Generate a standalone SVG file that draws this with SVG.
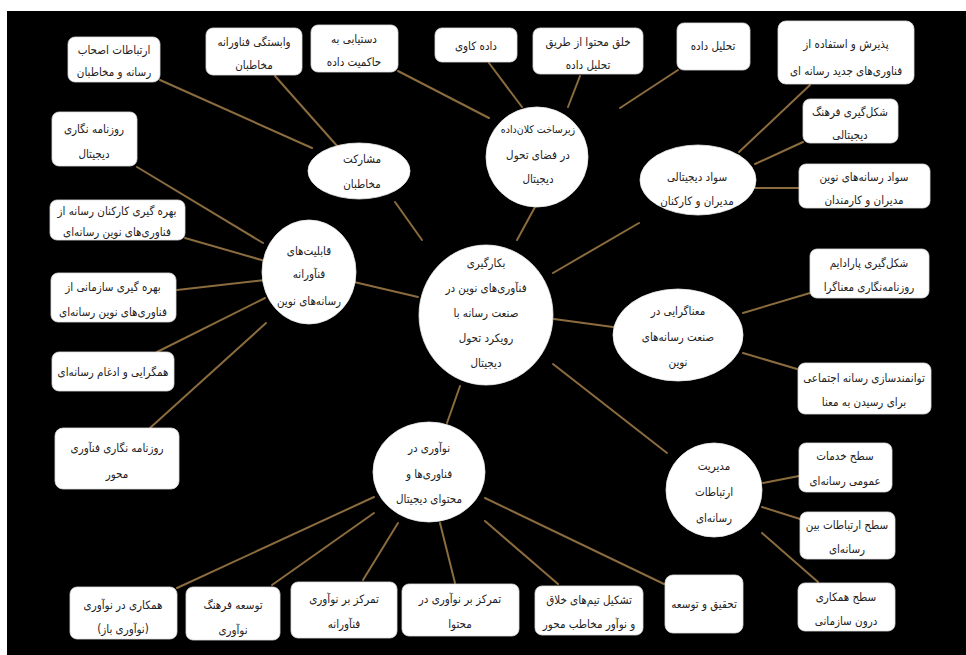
<svg xmlns="http://www.w3.org/2000/svg" width="966" height="655" viewBox="0 0 966 655">
<style>
.bg{fill:#000}
.box{fill:#fff;stroke:#ddd;stroke-width:0.8}
.ell{fill:#fff;stroke:#eee;stroke-width:0.8}
.c line{stroke:#8b6c3e;stroke-width:2;stroke-linecap:round}
text{font-family:"DejaVu Sans Condensed","DejaVu Sans",sans-serif;font-stretch:condensed;font-size:11.5px;fill:#222;text-anchor:middle;direction:rtl}
.sm{font-size:10.5px}
</style>
<rect x="0" y="0" width="966" height="655" fill="#fff"/>
<rect class="bg" x="7" y="11" width="959" height="644"/>
<g class="c" id="connectors">
<line x1="395" y1="202" x2="422" y2="240"/>
<line x1="535" y1="207" x2="517" y2="240"/>
<line x1="553" y1="273" x2="639" y2="223"/>
<line x1="354" y1="282" x2="418" y2="297"/>
<line x1="554" y1="319" x2="613" y2="327"/>
<line x1="460" y1="386" x2="447" y2="423"/>
<line x1="553" y1="364" x2="667" y2="453"/>
<line x1="160" y1="80" x2="312" y2="148"/>
<line x1="275" y1="76" x2="338" y2="147"/>
<line x1="398" y1="71" x2="489" y2="118"/>
<line x1="489" y1="63" x2="522" y2="107"/>
<line x1="580" y1="76" x2="568" y2="107"/>
<line x1="620" y1="108" x2="678" y2="70"/>
<line x1="810" y1="85" x2="739" y2="152"/>
<line x1="803" y1="142" x2="755" y2="164"/>
<line x1="755" y1="188" x2="799" y2="188"/>
<line x1="137" y1="167" x2="263" y2="243"/>
<line x1="185" y1="238" x2="265" y2="261"/>
<line x1="177" y1="290" x2="265" y2="280"/>
<line x1="157" y1="352" x2="265" y2="298"/>
<line x1="150" y1="428" x2="266" y2="323"/>
<line x1="743" y1="313" x2="810" y2="293"/>
<line x1="743" y1="353" x2="797" y2="369"/>
<line x1="177" y1="588" x2="374" y2="497"/>
<line x1="272" y1="585" x2="374" y2="513"/>
<line x1="363" y1="580" x2="398" y2="523"/>
<line x1="455" y1="583" x2="440" y2="523"/>
<line x1="558" y1="584" x2="485" y2="521"/>
<line x1="664" y1="584" x2="485" y2="498"/>
<line x1="763" y1="483" x2="799" y2="476"/>
<line x1="762" y1="507" x2="800" y2="519"/>
<line x1="762" y1="533" x2="818" y2="582"/>
</g>
<g id="n-center"><ellipse class="ell" cx="486" cy="315" rx="67" ry="70"/>
<text x="486" y="267">بکارگیری</text><text x="486" y="292">فنآوری‌های نوین در</text><text x="486" y="317">صنعت رسانه با</text><text x="486" y="342">رویکرد تحول</text><text x="486" y="367">دیجیتال</text></g>
<g id="n-zirsakht"><ellipse class="ell" cx="537" cy="157" rx="51" ry="50"/>
<text class="sm" x="538" y="133">زیرساخت کلان‌داده</text><text x="538" y="159">در فضای تحول</text><text x="538" y="183">دیجیتال</text></g>
<g id="n-mosharekat"><ellipse class="ell" cx="359" cy="171" rx="51" ry="28"/>
<text x="362" y="163">مشارکت</text><text x="362" y="188">مخاطبان</text></g>
<g id="n-savad"><ellipse class="ell" cx="698" cy="180" rx="58" ry="35"/>
<text x="697" y="181">سواد دیجیتالی</text><text x="697" y="205">مدیران و کارکنان</text></g>
<g id="n-qabeliyat"><ellipse class="ell" cx="309" cy="272" rx="47" ry="52"/>
<text x="309" y="255">قابلیت‌های</text><text x="309" y="278">فنآورانه</text><text x="309" y="305">رسانه‌های نوین</text></g>
<g id="n-managarai"><ellipse class="ell" cx="678" cy="335" rx="65" ry="46"/>
<text x="678" y="315">معناگرایی در</text><text x="678" y="341">صنعت رسانه‌های</text><text x="678" y="366">نوین</text></g>
<g id="n-noavari"><ellipse class="ell" cx="429" cy="472" rx="56" ry="50"/>
<text x="429" y="452">نوآوری در</text><text x="429" y="478">فناوری‌ها و</text><text x="429" y="503">محتوای دیجیتال</text></g>
<g id="n-modiriyat"><ellipse class="ell" cx="714" cy="490" rx="48" ry="47"/>
<text x="714" y="470">مدیریت</text><text x="714" y="496">ارتباطات</text><text x="714" y="522">رسانه‌ای</text></g>
<g id="b-ertebatat"><rect class="box" x="68" y="37" width="92" height="45" rx="7"/>
<text x="114" y="54">ارتباطات اصحاب</text><text x="114" y="76">رسانه و مخاطبان</text></g>
<g id="b-vabastegi"><rect class="box" x="206" y="28" width="96" height="47" rx="7"/>
<text x="254" y="46">وابستگی فناورانه</text><text x="254" y="69">مخاطبان</text></g>
<g id="b-dastyabi"><rect class="box" x="311" y="25" width="87" height="47" rx="7"/>
<text x="354" y="43">دستیابی به</text><text x="354" y="66">حاکمیت داده</text></g>
<g id="b-dadekavi"><rect class="box" x="435" y="28" width="82" height="34" rx="7"/>
<text x="476" y="50">داده کاوی</text></g>
<g id="b-khalq"><rect class="box" x="533" y="28" width="110" height="46" rx="7"/>
<text x="588" y="46">خلق محتوا از طریق</text><text x="588" y="69">تحلیل داده</text></g>
<g id="b-tahlil"><rect class="box" x="677" y="23" width="73" height="47" rx="7"/>
<text x="713" y="50">تحلیل داده</text></g>
<g id="b-paziresh"><rect class="box" x="778" y="21" width="136" height="63" rx="8"/>
<text x="846" y="48">پذیرش و استفاده از</text><text x="846" y="75">فناوری‌های جدید رسانه ای</text></g>
<g id="b-farhang"><rect class="box" x="803" y="99" width="95" height="44" rx="7"/>
<text x="850" y="116">شکل‌گیری فرهنگ</text><text x="850" y="139">دیجیتالی</text></g>
<g id="b-savadresane"><rect class="box" x="799" y="164" width="131" height="44" rx="7"/>
<text x="864" y="181">سواد رسانه‌های نوین</text><text x="864" y="204">مدیران و کارمندان</text></g>
<g id="b-paradaim"><rect class="box" x="810" y="249" width="119" height="49" rx="7"/>
<text x="869" y="267">شکل‌گیری پارادایم</text><text x="869" y="291">روزنامه‌نگاری معناگرا</text></g>
<g id="b-tavanmand"><rect class="box" x="798" y="363" width="133" height="51" rx="7"/>
<text x="864" y="382">توانمندسازی رسانه اجتماعی</text><text x="864" y="406">برای رسیدن به معنا</text></g>
<g id="b-roozname"><rect class="box" x="52" y="112" width="85" height="54" rx="7"/>
<text x="94" y="133">روزنامه نگاری</text><text x="94" y="158">دیجیتال</text></g>
<g id="b-karkonan"><rect class="box" x="50" y="200" width="135" height="40" rx="7"/>
<text x="117" y="215">بهره گیری کارکنان رسانه از</text><text x="117" y="236">فناوری‌های نوین رسانه‌ای</text></g>
<g id="b-sazmani"><rect class="box" x="51" y="273" width="125" height="49" rx="7"/>
<text x="113" y="291">بهره گیری سازمانی از</text><text x="113" y="316">فناوری‌های نوین رسانه‌ای</text></g>
<g id="b-hamgerai"><rect class="box" x="52" y="352" width="122" height="39" rx="7"/>
<text x="113" y="376">همگرایی و ادغام رسانه‌ای</text></g>
<g id="b-fanavarimehvar"><rect class="box" x="55" y="428" width="124" height="61" rx="8"/>
<text x="117" y="452">روزنامه نگاری فنآوری</text><text x="117" y="478">محور</text></g>
<g id="b-hamkari"><rect class="box" x="70" y="587" width="107" height="52" rx="7"/>
<text x="123" y="609">همکاری در نوآوری</text><text x="123" y="633">(نوآوری باز)</text></g>
<g id="b-tose"><rect class="box" x="186" y="587" width="94" height="53" rx="7"/>
<text x="233" y="609">توسعه فرهنگ</text><text x="233" y="634">نوآوری</text></g>
<g id="b-tamarkoz1"><rect class="box" x="291" y="582" width="106" height="56" rx="7"/>
<text x="344" y="603">تمرکز بر نوآوری</text><text x="344" y="628">فنآورانه</text></g>
<g id="b-tamarkoz2"><rect class="box" x="402" y="584" width="117" height="52" rx="7"/>
<text x="460" y="603">تمرکز بر نوآوری در</text><text x="460" y="628">محتوا</text></g>
<g id="b-tashkil"><rect class="box" x="535" y="586" width="108" height="49" rx="7"/>
<text x="589" y="604">تشکیل تیم‌های خلاق</text><text x="589" y="628">و نوآور مخاطب محور</text></g>
<g id="b-tahqiq"><rect class="box" x="665" y="575" width="78" height="58" rx="8"/>
<text x="704" y="608">تحقیق و توسعه</text></g>
<g id="b-khadamat"><rect class="box" x="799" y="443" width="93" height="49" rx="7"/>
<text x="845" y="460">سطح خدمات</text><text x="845" y="485">عمومی رسانه‌ای</text></g>
<g id="b-beyn"><rect class="box" x="800" y="512" width="95" height="47" rx="7"/>
<text x="847" y="529">سطح ارتباطات بین</text><text x="847" y="553">رسانه‌ای</text></g>
<g id="b-daroon"><rect class="box" x="798" y="583" width="97" height="48" rx="7"/>
<text x="846" y="601">سطح همکاری</text><text x="846" y="625">درون سازمانی</text></g>
</svg>
